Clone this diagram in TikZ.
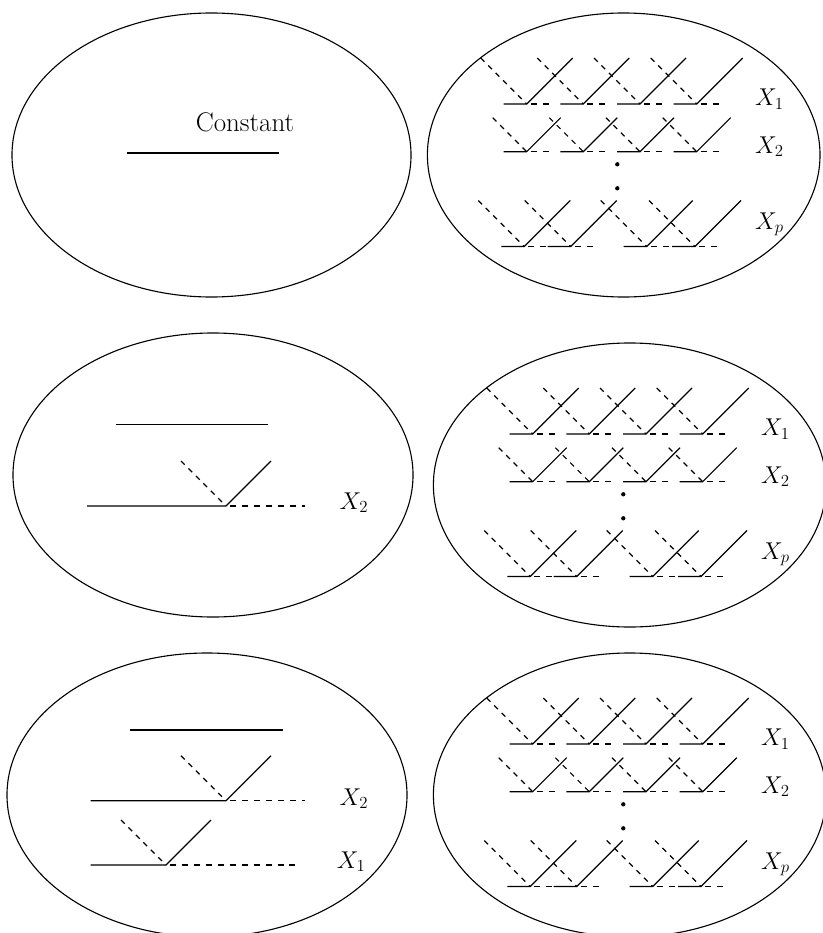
\documentclass[tikz,border=0pt]{standalone}
\newcommand{\hingeseg}[5]{% knot x, y, left end x, right end x, diagonal length
  \draw[solidln] ({#3},{#2}) -- ({#1},{#2}) -- ({#1+#5},{#2-#5});
  \draw[hdash] ({#1},{#2}) -- ({#4},{#2});
  \draw[dashln] ({#1-#5},{#2-#5}) -- ({#1},{#2});
}
\newcommand{\hingerow}[2]{% y, length ; knots fixed for rows X1, X2
  \foreach \k in {526.7,583.3,640,696.7} {\hingeseg{\k}{#1}{\k-23}{\k+23}{#2}}
}
\begin{document}
\begin{tikzpicture}[x=0.03cm,y=-0.03cm,
  ell/.style={draw, line width=0.95pt},
  solidln/.style={line width=1pt},
  dashln/.style={line width=1pt, dash pattern=on 4.5pt off 4.5pt},
  hdash/.style={line width=1pt, dash pattern=on 5.1pt off 5.1pt, dash phase=6.8pt},
  lbl/.style={anchor=base west, inner sep=0pt, font=\fontsize{21}{25}\selectfont},
  dotfill/.style={fill=black}]
\useasboundingbox (0,0) rectangle (823,933);

% ---------- top left ----------
\draw[ell] (211.5,155) ellipse [x radius=5.985cm, y radius=4.26cm];
\node[inner sep=0pt, font=\fontsize{23}{27}\selectfont] (const) at (245,122) {Constant};
\draw[solidln] (127,153) -- (279,153);

% ---------- middle left ----------
\draw[ell] (213,475) ellipse [x radius=6cm, y radius=4.26cm];
\draw[solidln] (116,424.3) -- (268,424.3);
\hingeseg{226}{506}{87}{305}{45}
\node[lbl] (mlx2) at (339.3,509) {$X_2$};

% ---------- bottom left ----------
\draw[ell] (207,795) ellipse [x radius=6cm, y radius=4.26cm];
\draw[solidln] (130,730) -- (282.7,730);
\hingeseg{226}{800.7}{90.7}{305}{45}
\hingeseg{166}{865}{90.7}{300}{45}
\node[lbl] (blx2) at (339.3,805) {$X_2$};
\node[lbl] (blx1) at (336.7,868.3) {$X_1$};

% ---------- right panels ----------
\foreach \dx/\dy/\nm in {0/0/a, 6/330/b, 6/640/c} {
\begin{scope}[shift={(\dx,\dy)}]
  \draw[ell] (623.7,155) ellipse [x radius=5.889cm, y radius=4.26cm];
  \hingerow{104}{46}
  \hingerow{151.7}{34}
  \foreach \k in {524.3,570.7,646.7,695} {\hingeseg{\k}{246.5}{\k-23}{\k+23}{46}}
  \fill[dotfill] (617.3,164.3) circle [radius=0.065cm];
  \fill[dotfill] (617.3,188.3) circle [radius=0.065cm];
  \node[lbl] (x1\nm) at (755,105.7) {$X_1$};
  \node[lbl] (x2\nm) at (755,153.3) {$X_2$};
  \node[lbl] (xp\nm) at (755,229) {$X_p$};
\end{scope}
}
\end{tikzpicture}
\end{document}
